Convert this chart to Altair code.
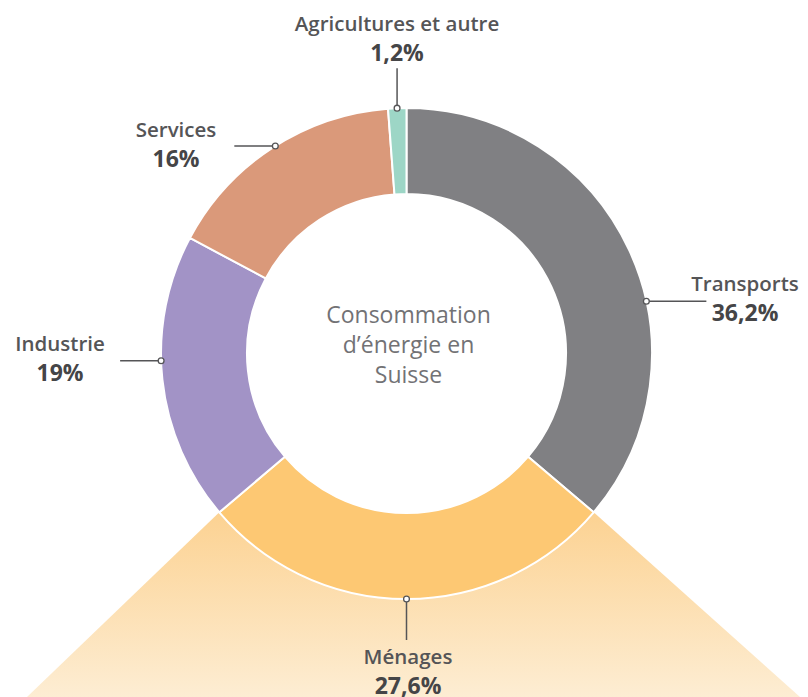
import math
import altair as alt
import pandas as pd

# ---- data ----
categories = ["Transports", "Ménages", "Industrie", "Services", "Agricultures et autre"]
shares = [36.2, 27.6, 19.0, 16.0, 1.2]
pct_labels = ["36,2%", "27,6%", "19%", "16%", "1,2%"]
slice_colors = ["#808083", "#FDC873", "#A293C6", "#DA997A", "#9DD6C6"]
center_title = "Consommation\nd’énergie en\nSuisse"

# ---- layout (chart pixel space) ----
W, H = 792, 689
CX, CY = 398.5, 345.5
R_OUT, R_IN = 245.5, 159.5
anchor_deg = [77.7, 180.0, 268.3, 327.7, 357.8]
leader = [(60, 0), (0, 41), (-41, 0), (-41, 0), (0, -40)]
label_pos = [(737, 277), (400, 650), (52, 337), (168, 123), (389, 17)]
PCT_DY = 29
FONT = "Open Sans"

def polar(deg, r):
    a = math.radians(deg)
    return CX + r * math.sin(a), CY - r * math.cos(a)

rows = []
for i, c in enumerate(categories):
    ax, ay = polar(anchor_deg[i], R_OUT)
    rows.append(dict(cat=c, share=shares[i], pct=pct_labels[i], idx=i,
                     ax=ax, ay=ay, lx=ax + leader[i][0], ly=ay + leader[i][1],
                     tx=label_pos[i][0], ty=label_pos[i][1], py=label_pos[i][1] + PCT_DY))
df = pd.DataFrame(rows)

# trapezoid under the Ménages slice, from its outer edge corners
total = sum(shares)
m_start = shares[0] / total * 360
m_end = (shares[0] + shares[1]) / total * 360
lx0, ly0 = polar(m_end, R_OUT)
rx0, ry0 = polar(m_start, R_OUT)
trap = pd.DataFrame({"y": [ly0, H], "x": [lx0, 19], "x2": [rx0, W]})

xs = alt.Scale(domain=[0, W], nice=False, zero=False)
ys = alt.Scale(domain=[0, H], nice=False, zero=False, reverse=True)

area = alt.Chart(trap).mark_area(
    orient="horizontal",
    color=alt.Gradient(gradient="linear", x1=0, x2=0, y1=0, y2=1,
                       stops=[alt.GradientStop(color="#FCD292", offset=0),
                              alt.GradientStop(color="#FDEDD3", offset=1)]),
).encode(
    y=alt.Y("y:Q", scale=ys, axis=None),
    x=alt.X("x:Q", scale=xs, axis=None, stack=False),
    x2="x2:Q",
)

arc = alt.Chart(df).mark_arc(outerRadius=R_OUT, innerRadius=R_IN, stroke="white", strokeWidth=2).encode(
    theta=alt.Theta("share:Q", stack=True),
    order=alt.Order("idx:Q"),
    color=alt.Color("cat:N", scale=alt.Scale(domain=categories, range=slice_colors), legend=None),
    x=alt.value(CX), y=alt.value(CY),
)

rules = alt.Chart(df).mark_rule(color="#555557", strokeWidth=1.5).encode(
    x=alt.X("ax:Q", scale=xs, axis=None), y=alt.Y("ay:Q", scale=ys, axis=None),
    x2="lx:Q", y2="ly:Q",
)

dots = alt.Chart(df).mark_point(filled=True, fill="white", stroke="#555557", strokeWidth=1.3,
                                size=34, opacity=1, shape="circle").encode(
    x=alt.X("ax:Q", scale=xs, axis=None), y=alt.Y("ay:Q", scale=ys, axis=None),
)

names = alt.Chart(df).mark_text(font=FONT, fontSize=20.5, fontWeight=600, color="#555557",
                                align="center", baseline="middle").encode(
    x=alt.X("tx:Q", scale=xs, axis=None), y=alt.Y("ty:Q", scale=ys, axis=None), text="cat:N",
)

pcts = alt.Chart(df).mark_text(font=FONT, fontSize=23, fontWeight="bold", color="#454547",
                               align="center", baseline="middle").encode(
    x=alt.X("tx:Q", scale=xs, axis=None), y=alt.Y("py:Q", scale=ys, axis=None), text="pct:N",
)

center = alt.Chart(pd.DataFrame({"t": [center_title]})).mark_text(
    font=FONT, fontSize=23, fontWeight=400, color="#727275", align="center", baseline="middle",
    lineBreak="\n", lineHeight=30,
).encode(x=alt.value(CX + 2), y=alt.value(CY - 38), text="t:N")

chart = alt.layer(area, arc, rules, dots, names, pcts, center).properties(
    width=W, height=H, autosize=alt.AutoSizeParams(type="none"), padding=0,
).configure_view(stroke=None)

chart.save("out.html", embed_options={"renderer": "svg", "actions": False})
